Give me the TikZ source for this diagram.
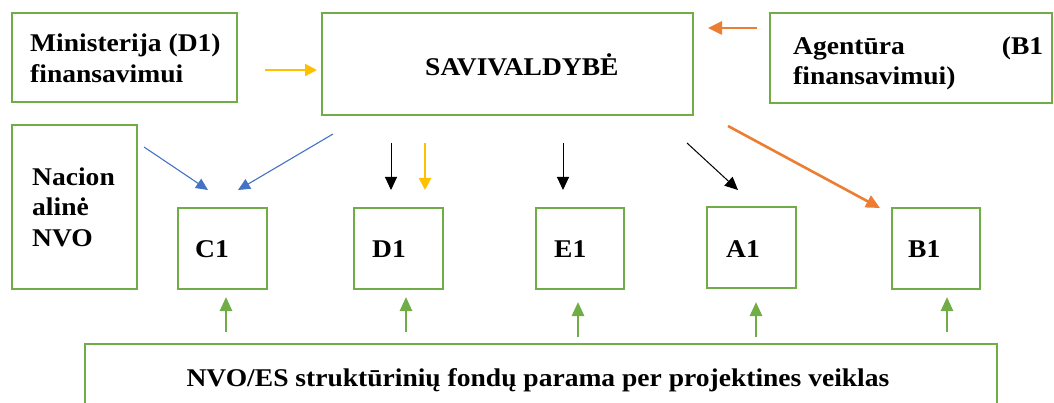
\documentclass[tikz,border=0pt]{standalone}
\usepackage{fontspec}
\setmainfont{Liberation Serif}[FakeStretch=1.08]
\usetikzlibrary{arrows.meta}
\definecolor{gr}{HTML}{70AD47}
\definecolor{orng}{HTML}{ED7D31}
\definecolor{gold}{HTML}{FFC000}
\definecolor{blu}{HTML}{4472C4}
\begin{document}
\begin{tikzpicture}[x=1pt,y=-1pt,
  box/.style={draw=gr, line width=2.2pt, inner sep=0pt},
  lbl/.style={font=\bfseries\fontsize{25.5}{30}\selectfont, inner sep=0pt, anchor=base west},
  garr/.style={draw=gr, line width=2.6pt, -{Triangle[length=14pt,width=12pt]}},
  karr/.style={draw=black, line width=1pt, -{Triangle[length=13pt,width=12pt]}},
  yarr/.style={draw=gold, line width=2.4pt, -{Triangle[length=12pt,width=12pt]}},
  barr/.style={draw=blu, line width=1.1pt, -{Triangle[length=12pt,width=11pt]}},
  oarr/.style={draw=orng, line width=2.6pt, -{Triangle[length=14pt,width=13pt]}}]
\useasboundingbox (0,0) rectangle (1054,403);
% boxes
\node[box, minimum width=225pt, minimum height=89pt] (min) at (124.5,57.5) {};
\node[box, minimum width=371pt, minimum height=102pt] (sav) at (507.5,64) {};
\node[box, minimum width=282pt, minimum height=90pt] (agn) at (911,58) {};
\node[box, minimum width=125pt, minimum height=164pt] (nac) at (74.5,207) {};
\node[box, minimum width=89pt, minimum height=81pt] (c1) at (222.5,248.5) {};
\node[box, minimum width=89pt, minimum height=81pt] (d1) at (398.5,248.5) {};
\node[box, minimum width=88pt, minimum height=81pt] (e1) at (580,248.5) {};
\node[box, minimum width=89pt, minimum height=81pt] (a1) at (751.5,247.5) {};
\node[box, minimum width=88pt, minimum height=81pt] (b1) at (936,248.5) {};
\node[box, minimum width=912pt, minimum height=100pt] (nvo) at (541,394) {};
% texts
\node[lbl] (t-min1) at (30,52) {Ministerija (D1)};
\node[lbl] (t-min2) at (30,83) {finansavimui};
\node[lbl] (t-sav) at (425,76) {SAVIVALDYBĖ};
\node[lbl, text width=250pt] (t-agn1) at (793,55) {Agentūra\hfill(B1};
\node[lbl] (t-agn2) at (793,85) {finansavimui)};
\node[lbl] (t-nac1) at (32,186) {Nacion};
\node[lbl] (t-nac2) at (32,216) {alinė};
\node[lbl] (t-nac3) at (32,247) {NVO};
\node[lbl] (t-c1) at (195,258) {C1};
\node[lbl] (t-d1) at (372,258) {D1};
\node[lbl] (t-e1) at (554,258) {E1};
\node[lbl] (t-a1) at (726,258) {A1};
\node[lbl] (t-b1) at (908,258) {B1};
\node[lbl, anchor=base] (t-nvo) at (538,386) {NVO/ES struktūrinių fondų parama per projektines veiklas};
% arrow end points
\coordinate (y1s) at (265,70); \coordinate (y1e) at (317,70);
\coordinate (o1s) at (757,28); \coordinate (o1e) at (708,28);
\coordinate (bl1s) at (144,147); \coordinate (bl1e) at (208,190);
\coordinate (bl2s) at (333,134); \coordinate (bl2e) at (238,190);
\coordinate (kd1s) at (391,143); \coordinate (kd1e) at (391,190);
\coordinate (yd1s) at (425,143); \coordinate (yd1e) at (425,190);
\coordinate (ke1s) at (563,143); \coordinate (ke1e) at (563,190);
\coordinate (ka1s) at (687,143); \coordinate (ka1e) at (738,190);
\coordinate (ob1s) at (728,126); \coordinate (ob1e) at (880,208);
\coordinate (gc1s) at (226,332); \coordinate (gc1e) at (226,297);
\coordinate (gd1s) at (406,332); \coordinate (gd1e) at (406,297);
\coordinate (ge1s) at (578,337); \coordinate (ge1e) at (578,302);
\coordinate (ga1s) at (756,337); \coordinate (ga1e) at (756,302);
\coordinate (gb1s) at (947,332); \coordinate (gb1e) at (947,297);
% arrows
\draw[yarr] (y1s) -- (y1e);
\draw[oarr] (o1s) -- (o1e);
\draw[barr] (bl1s) -- (bl1e);
\draw[barr] (bl2s) -- (bl2e);
\draw[karr] (kd1s) -- (kd1e);
\draw[yarr] (yd1s) -- (yd1e);
\draw[karr] (ke1s) -- (ke1e);
\draw[karr] (ka1s) -- (ka1e);
\draw[oarr] (ob1s) -- (ob1e);
\draw[garr] (gc1s) -- (gc1e);
\draw[garr] (gd1s) -- (gd1e);
\draw[garr] (ge1s) -- (ge1e);
\draw[garr] (ga1s) -- (ga1e);
\draw[garr] (gb1s) -- (gb1e);
\end{tikzpicture}
\end{document}
